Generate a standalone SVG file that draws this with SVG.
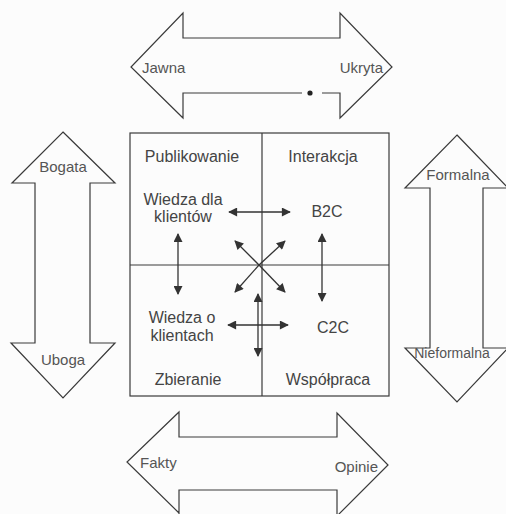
<svg xmlns="http://www.w3.org/2000/svg" width="506" height="514" viewBox="0 0 506 514">
<style>
.shape{fill:none;stroke:#3a3a3a;stroke-width:1.2;stroke-linejoin:miter}
.t{font-family:"Liberation Sans",Arial,sans-serif;font-size:16px;fill:#444}
.s{font-family:"Liberation Sans",Arial,sans-serif;font-size:15px;fill:#555}
.c{stroke:#333;stroke-width:1.3;fill:none}
</style>
<defs>
<marker id="ah" viewBox="0 0 10 10" refX="9" refY="5" markerWidth="10" markerHeight="9" markerUnits="userSpaceOnUse" orient="auto-start-reverse">
<path d="M0,0 L10,5 L0,10 z" fill="#333"/>
</marker>
</defs>
<rect width="506" height="514" fill="#fcfcfc"/>

<g id="arrow-top">
<path class="shape" d="M302,93 L183,93 L183,118 L131,67 L183,13 L183,38 L340,38 L340,13 L392,67 L340,118 L340,93 L322,93"/>
<circle cx="310" cy="93" r="2.6" fill="#222"/>
<text class="s" x="142" y="73">Jawna</text>
<text class="s" x="383" y="73" text-anchor="end">Ukryta</text>
</g>

<g id="arrow-left">
<path class="shape" d="M63,132 L115,183 L90,183 L90,343 L115,343 L63,398 L11,343 L35,343 L35,183 L12,183 Z"/>
<text class="s" x="63" y="172" text-anchor="middle">Bogata</text>
<text class="s" x="63" y="365" text-anchor="middle">Uboga</text>
</g>

<g id="arrow-right">
<path class="shape" d="M457,135 L508,188 L483,188 L483,348 L508,348 L457,402 L405,348 L430,348 L430,188 L405,188 Z"/>
<text class="s" x="458" y="180" text-anchor="middle">Formalna</text>
<text class="s" x="452" y="358" text-anchor="middle" style="font-size:14px">Nieformalna</text>
</g>

<g id="arrow-bottom">
<path class="shape" d="M179,514 L179,490 L337,490 L337,516 M337,516 L388,465 L337,413 L337,437 L179,437 L179,412 L127,462 L179,513"/>
<text class="s" x="140" y="468">Fakty</text>
<text class="s" x="378" y="472" text-anchor="end">Opinie</text>
</g>

<g id="matrix">
<rect class="shape" x="130" y="133" width="259" height="263"/>
<line class="shape" x1="262" y1="133" x2="262" y2="396"/>
<line class="shape" x1="130" y1="265" x2="389" y2="265"/>
</g>

<g id="publikowanie">
<text class="t" x="192" y="162" text-anchor="middle">Publikowanie</text>
<text class="t" x="183" y="205" text-anchor="middle">Wiedza dla</text>
<text class="t" x="183" y="222" text-anchor="middle">klientów</text>
</g>
<g id="interakcja">
<text class="t" x="323" y="162" text-anchor="middle">Interakcja</text>
<text class="t" x="327" y="217" text-anchor="middle">B2C</text>
</g>
<g id="zbieranie">
<text class="t" x="182" y="323" text-anchor="middle">Wiedza o</text>
<text class="t" x="182" y="341" text-anchor="middle">klientach</text>
<text class="t" x="188" y="385" text-anchor="middle">Zbieranie</text>
</g>
<g id="wspolpraca">
<text class="t" x="333" y="333" text-anchor="middle">C2C</text>
<text class="t" x="328" y="385" text-anchor="middle">Współpraca</text>
</g>

<g id="connectors">
<line class="c" x1="229" y1="212" x2="290" y2="212" marker-start="url(#ah)" marker-end="url(#ah)"/>
<line class="c" x1="178" y1="234" x2="178" y2="294" marker-start="url(#ah)" marker-end="url(#ah)"/>
<line class="c" x1="322" y1="234" x2="322" y2="301" marker-start="url(#ah)" marker-end="url(#ah)"/>
<line class="c" x1="259" y1="265" x2="235" y2="241" marker-end="url(#ah)"/>
<line class="c" x1="259" y1="265" x2="285" y2="241" marker-end="url(#ah)"/>
<line class="c" x1="259" y1="265" x2="235" y2="292" marker-end="url(#ah)"/>
<line class="c" x1="259" y1="265" x2="285" y2="292" marker-end="url(#ah)"/>
<line class="c" x1="258" y1="294" x2="258" y2="356" marker-start="url(#ah)" marker-end="url(#ah)"/>
<line class="c" x1="228" y1="325" x2="288" y2="325" marker-start="url(#ah)" marker-end="url(#ah)"/>
</g>
</svg>
